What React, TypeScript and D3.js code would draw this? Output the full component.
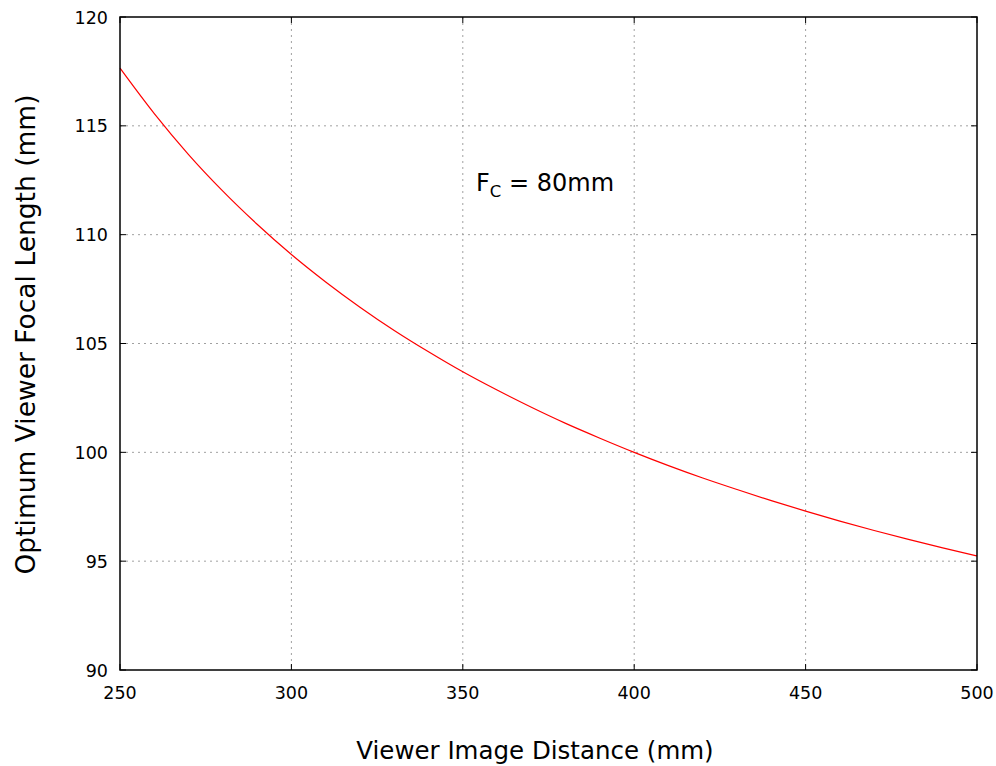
import React from "react";
import * as d3 from "d3";

const distances = [250, 260, 270, 280, 290, 300, 310, 320, 330, 340, 350, 360, 370, 380, 390, 400, 410, 420, 430, 440, 450, 460, 470, 480, 490, 500];
const focalLengths = [117.65, 115.56, 113.68, 112.0, 110.48, 109.09, 107.83, 106.67, 105.6, 104.62, 103.7, 102.86, 102.07, 101.33, 100.65, 100.0, 99.39, 98.82, 98.29, 97.78, 97.3, 96.84, 96.41, 96.0, 95.61, 95.24];
const xTicks = [250, 300, 350, 400, 450, 500];
const yTicks = [90, 95, 100, 105, 110, 115, 120];
const xTitle = "Viewer Image Distance (mm)";
const yTitle = "Optimum Viewer Focal Length (mm)";

const W = 996;
const H = 766;
const L = 120, R = 977, T = 17, B = 670;
const font = "'DejaVu Sans', Verdana, sans-serif";

export default function App() {
  const x = d3.scaleLinear().domain([250, 500]).range([L, R]);
  const y = d3.scaleLinear().domain([90, 120]).range([B, T]);
  const pts = distances.map((d, i) => [d, focalLengths[i]] as [number, number]);
  const line = d3.line<[number, number]>().x(d => x(d[0])).y(d => y(d[1])).curve(d3.curveMonotoneX);

  return (
    <svg width={W} height={H} style={{ position: "absolute", left: 0, top: 0, background: "#fff" }}>
      <rect x={0} y={0} width={W} height={H} fill="#fff" />
      {/* grid */}
      {xTicks.slice(1, -1).map(t => (
        <line key={"gx" + t} x1={x(t)} x2={x(t)} y1={T} y2={B} stroke="#a0a0a0" strokeWidth={1} strokeDasharray="2,4" />
      ))}
      {yTicks.slice(1, -1).map(t => (
        <line key={"gy" + t} x1={L} x2={R} y1={y(t)} y2={y(t)} stroke="#a0a0a0" strokeWidth={1} strokeDasharray="2,4" />
      ))}
      {/* ticks */}
      {xTicks.map(t => (
        <g key={"tx" + t}>
          <line x1={x(t)} x2={x(t)} y1={B} y2={B - 6} stroke="#000" />
          <line x1={x(t)} x2={x(t)} y1={T} y2={T + 6} stroke="#000" />
          <text x={x(t)} y={B + 29} textAnchor="middle" fontFamily={font} fontSize={17.5} fill="#000">{t}</text>
        </g>
      ))}
      {yTicks.map(t => (
        <g key={"ty" + t}>
          <line x1={L} x2={L + 6} y1={y(t)} y2={y(t)} stroke="#000" />
          <line x1={R} x2={R - 6} y1={y(t)} y2={y(t)} stroke="#000" />
          <text x={L - 12} y={y(t) + 6.5} textAnchor="end" fontFamily={font} fontSize={17.5} fill="#000">{t}</text>
        </g>
      ))}
      {/* curve */}
      <path d={line(pts) || ""} fill="none" stroke="#ff0000" strokeWidth={1.2} />
      {/* frame */}
      <rect x={L} y={T} width={R - L} height={B - T} fill="none" stroke="#000" strokeWidth={1.5} />
      {/* annotation */}
      <text x={476} y={191} fontFamily={font} fontSize={24} fill="#000">
        F<tspan fontSize={16.5} dy={6}>C</tspan><tspan dy={-6}> = 80mm</tspan>
      </text>
      {/* titles */}
      <text x={535} y={759} textAnchor="middle" fontFamily={font} fontSize={24.5} fill="#000">{xTitle}</text>
      <text transform={`translate(35,334.5) rotate(-90)`} textAnchor="middle" fontFamily={font} fontSize={26.5} fill="#000">{yTitle}</text>
    </svg>
  );
}
